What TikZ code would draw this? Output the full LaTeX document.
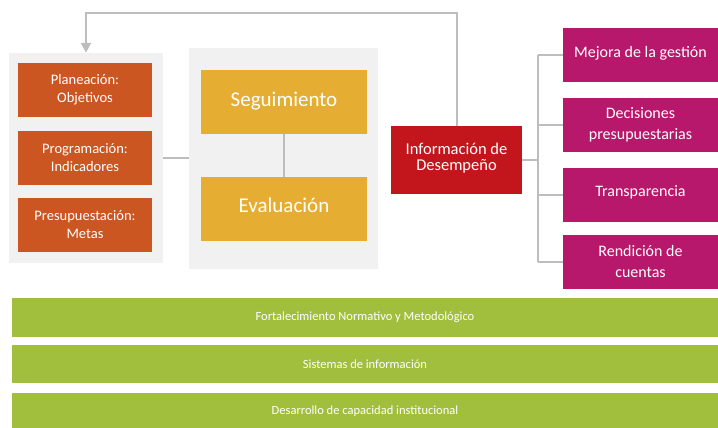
\documentclass[tikz,border=0pt]{standalone}
\usepackage{fontspec}
\setmainfont{Carlito}
\usetikzlibrary{arrows.meta}
\definecolor{panelgray}{HTML}{F1F1F1}
\definecolor{linegray}{HTML}{BDBDBD}
\definecolor{orangebox}{HTML}{CC5621}
\definecolor{yellowbox}{HTML}{E5AE32}
\definecolor{redbox}{HTML}{C3161C}
\definecolor{magentabox}{HTML}{B8186B}
\definecolor{greenbar}{HTML}{A1BF3D}
\tikzset{
  panel/.style={rectangle, fill=panelgray, draw=none, inner sep=0pt},
  cbox/.style={rectangle, draw=none, inner sep=0pt, text=white, align=center},
  obox/.style={cbox, fill=orangebox, minimum width=134pt, minimum height=54pt, font=\fontsize{14.5}{18}\selectfont},
  ybox/.style={cbox, fill=yellowbox, minimum width=166pt, minimum height=64pt, font=\fontsize{21}{24}\selectfont},
  rbox/.style={cbox, fill=redbox, minimum width=131pt, minimum height=68pt, font=\fontsize{16.5}{20}\selectfont},
  mbox/.style={cbox, fill=magentabox, minimum width=155pt, minimum height=54pt, font=\fontsize{16}{21}\selectfont},
  gbar/.style={cbox, fill=greenbar, minimum width=706pt, font=\fontsize{12.5}{15}\selectfont},
  conn/.style={draw=linegray, line width=2pt},
}
\begin{document}
\begin{tikzpicture}[x=1pt,y=-1pt]
\useasboundingbox (0,0) rectangle (718,428);
% panels
\node[panel, minimum width=154pt, minimum height=210pt] (lp) at (86,158) {};
\node[panel, minimum width=189pt, minimum height=221pt] (mp) at (283.5,158.5) {};
% orange
\node[obox] (o1) at (85,90) {Planeación:\\Objetivos};
\node[obox] (o2) at (85,157.5) {Programación:\\Indicadores};
\node[obox] (o3) at (85,225) {Presupuestación:\\Metas};
% yellow
\node[ybox] (y1) at (284,102) {\raisebox{6pt}{Seguimiento}};
\node[ybox] (y2) at (284,209) {\raisebox{7pt}{Evaluación}};
% red
\node[rbox] (r) at (456.5,160) {\raisebox{7pt}{\shortstack{Información de\\[2pt]Desempeño}}};
% magenta
\node[mbox] (m1) at (640.5,55) {\raisebox{7pt}{Mejora de la gestión}};
\node[mbox] (m2) at (640.5,125) {Decisiones\\presupuestarias};
\node[mbox] (m3) at (640.5,194.5) {\raisebox{7pt}{Transparencia}};
\node[mbox] (m4) at (640.5,261.5) {Rendición de\\cuentas};
% green bars
\node[gbar, minimum height=39pt] (g1) at (365,317.5) {\raisebox{3pt}{Fortalecimiento Normativo y Metodológico}};
\node[gbar, minimum height=38pt] (g2) at (365,364) {Sistemas de información};
\node[gbar, minimum height=36pt] (g3) at (365,411) {Desarrollo de capacidad institucional};
% connectors
\draw[conn] (y1.south) -- (y2.north);
\draw[conn] (lp.east) -- (lp.east -| mp.west);
\draw[conn, -{Triangle[length=10pt,width=10pt]}] (r.north) -- ++(0,-113) -| (lp.north);
\draw[conn] (r.east) -- ++(16,0) coordinate (t);
\draw[conn] (t |- m1.west) -- (t |- m4.west);
\draw[conn] (t |- m1.west) -- (m1.west);
\draw[conn] (t |- m2.west) -- (m2.west);
\draw[conn] (t |- m3.west) -- (m3.west);
\draw[conn] (t |- m4.west) -- (m4.west);
\end{tikzpicture}
\end{document}
